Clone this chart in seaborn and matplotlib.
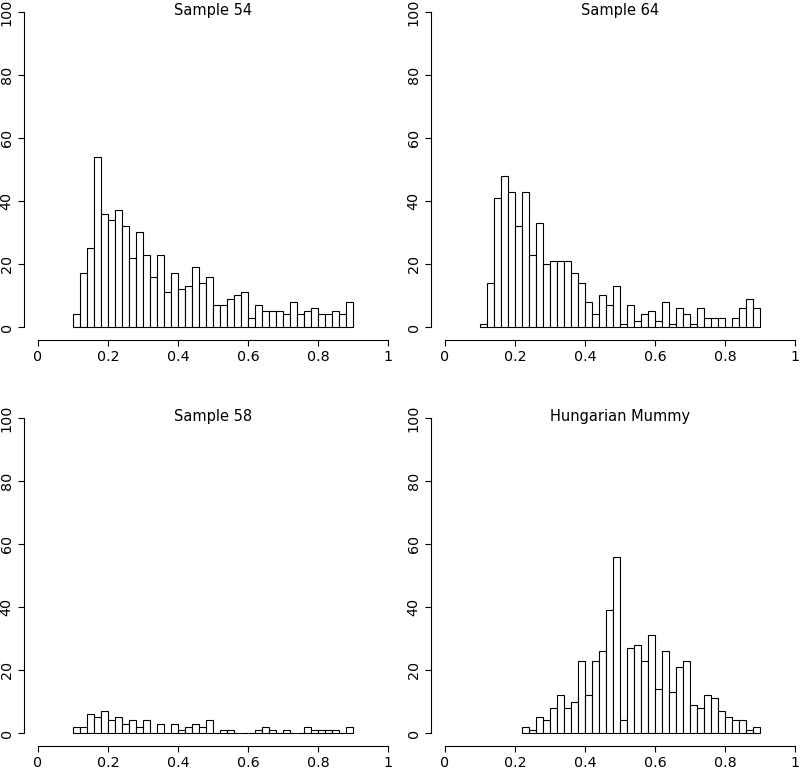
#!/usr/bin/env python3

import matplotlib

matplotlib.use("Agg")
import matplotlib.pyplot as plt
import numpy as np
import pandas as pd
import seaborn as sns

# histogram counts, 40 bins of width 0.02 from 0.1 to 0.9
sample_54 = [4, 17, 25, 54, 36, 34, 37, 32, 22, 30, 23, 16, 23, 11, 17, 12, 13, 19, 14, 16,
             7, 7, 9, 10, 11, 3, 7, 5, 5, 5, 4, 8, 4, 5, 6, 4, 4, 5, 4, 8]
sample_64 = [1, 14, 41, 48, 43, 32, 43, 23, 33, 20, 21, 21, 21, 17, 14, 8, 4, 10, 7, 13,
             1, 7, 2, 4, 5, 2, 8, 1, 6, 4, 1, 6, 3, 3, 3, 0, 3, 6, 9, 6]
sample_58 = [2, 2, 6, 5, 7, 4, 5, 3, 4, 2, 4, 0, 3, 0, 3, 1, 2, 3, 2, 4,
             0, 1, 1, 0, 0, 0, 1, 2, 1, 0, 1, 0, 0, 2, 1, 1, 1, 1, 0, 2]
hungarian_mummy = [0, 0, 0, 0, 0, 0, 2, 1, 5, 4, 8, 12, 8, 10, 23, 12, 23, 26, 39, 56,
                   4, 27, 28, 23, 31, 14, 26, 13, 21, 23, 9, 8, 12, 11, 7, 5, 4, 4, 1, 2]

titles = ["Sample 54", "Sample 64", "Sample 58", "Hungarian Mummy"]
bin_lo, bin_hi, n_bins = 0.1, 0.9, 40
x_ticks = [0, 0.2, 0.4, 0.6, 0.8, 1]
x_tick_labels = ["0", "0.2", "0.4", "0.6", "0.8", "1"]
y_ticks = [0, 20, 40, 60, 80, 100]

plt.rcParams["font.family"] = ["DejaVu Sans"]
plt.rcParams["font.size"] = 10

W, H = 800, 768
fig = plt.figure(figsize=(W / 100, H / 100), dpi=100)

# panel boxes in pixels: left, top, right, bottom (R style 4% axis padding)
boxes = [
    (24, -0.6, 402, 339.6),
    (431, -0.6, 809, 339.6),
    (24, 405.4, 402, 745.6),
    (431, 405.4, 809, 745.6),
]
series = [sample_54, sample_64, sample_58, hungarian_mummy]

edges = np.linspace(bin_lo, bin_hi, n_bins + 1)
centers = (edges[:-1] + edges[1:]) / 2

for (l, t, r, b), counts, title in zip(boxes, series, titles):
    ax = fig.add_axes([l / W, 1 - b / H, (r - l) / W, (b - t) / H])
    # like R's hist, the bins only span the range of the data
    nz = np.nonzero(counts)[0]
    first, last = nz[0], nz[-1]
    df = pd.DataFrame({"value": centers[first:last + 1], "count": counts[first:last + 1]})
    sns.histplot(
        data=df,
        x="value",
        weights="count",
        bins=edges[first:last + 2].tolist(),
        color="white",
        edgecolor="black",
        linewidth=0.8,
        alpha=1,
        ax=ax,
    )
    ax.set_xlim(-0.04, 1.04)
    ax.set_ylim(-4, 104)
    ax.set_xlabel("")
    ax.set_ylabel("")
    ax.set_facecolor("none")
    for side in ("top", "right"):
        ax.spines[side].set_visible(False)
    ax.spines["left"].set_bounds(0, 100)
    ax.spines["bottom"].set_bounds(0, 1)
    ax.spines["left"].set_linewidth(0.8)
    ax.spines["bottom"].set_linewidth(0.8)
    ax.set_xticks(x_ticks)
    ax.set_xticklabels(x_tick_labels)
    ax.set_yticks(y_ticks)
    ax.set_yticklabels([str(v) for v in y_ticks], rotation=90, va="center")
    ax.tick_params(length=4.5, width=0.8, pad=3, labelsize=10.3)
    ax.text(0.5, 0.966, title, transform=ax.transAxes, ha="center", va="center", fontsize=10.5)

plt.savefig("out.png", dpi=100)
